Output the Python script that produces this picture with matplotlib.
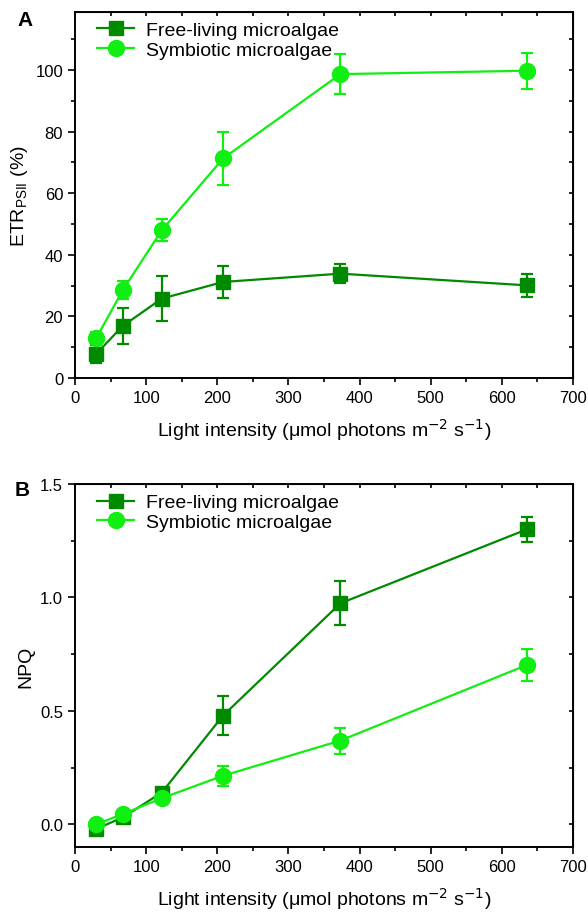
import numpy as np
import matplotlib
matplotlib.use("Agg")
import matplotlib.pyplot as plt
from matplotlib.ticker import MultipleLocator

plt.rcParams['font.family'] = ['Liberation Sans', 'DejaVu Sans']

light = [30, 67, 122, 208, 373, 635]

# panel A: ETR PSII (%)
etr_free = [7.9, 16.9, 25.8, 31.2, 33.9, 30.1]
etr_free_err = [2.9, 5.9, 7.2, 5.3, 3.1, 3.7]
etr_sym = [13.0, 28.5, 48.0, 71.3, 98.7, 99.8]
etr_sym_err = [2.1, 2.9, 3.6, 8.5, 6.6, 5.8]

# panel B: NPQ
npq_free = [-0.02, 0.03, 0.14, 0.479, 0.974, 1.30]
npq_free_err = [0.02, 0.015, 0.02, 0.085, 0.097, 0.055]
npq_sym = [0.0, 0.045, 0.115, 0.214, 0.369, 0.702]
npq_sym_err = [0.015, 0.015, 0.02, 0.045, 0.057, 0.07]

dark = '#008a00'
lime = '#11ee11'

fig = plt.figure(figsize=(5.88, 9.2), dpi=100)
axA = fig.add_axes([0.1276, 0.588, 0.8469, 0.3983])
axB = fig.add_axes([0.1276, 0.0783, 0.8469, 0.3945])


def draw(ax, yf, ef, ys, es):
    f = ax.errorbar(light, yf, yerr=ef, color=dark, marker='s', markersize=10, lw=1.6,
                    capsize=4.5, capthick=1.6, elinewidth=1.6)
    s = ax.errorbar(light, ys, yerr=es, color=lime, marker='o', markersize=11.5, lw=1.6,
                    capsize=4.5, capthick=1.6, elinewidth=1.6)
    ax.set_xlim(0, 700)
    ax.xaxis.set_major_locator(MultipleLocator(100))
    ax.xaxis.set_minor_locator(MultipleLocator(50))
    ax.tick_params(which='both', direction='out', width=1.2, labelsize=12)
    ax.tick_params(which='major', length=5)
    ax.tick_params(which='minor', length=3)
    for sp in ax.spines.values():
        sp.set_linewidth(1.4)
    # mirrored inward ticks on top and right
    top = ax.secondary_xaxis('top')
    top.xaxis.set_major_locator(MultipleLocator(50))
    top.tick_params(direction='in', length=3, width=1.2, labeltop=False)
    right = ax.secondary_yaxis('right')
    right.tick_params(direction='in', length=3, width=1.2, labelright=False)
    ax.set_xlabel('Light intensity (μmol photons m$^{-2}$ s$^{-1}$)', fontsize=14, labelpad=8)
    leg = ax.legend([f[0], s[0]], ['Free-living microalgae', 'Symbiotic microalgae'],
                    loc='upper left', frameon=False, fontsize=14, handlelength=1.9,
                    bbox_to_anchor=(0.025, 1.0), borderaxespad=0.2, borderpad=0.3,
                    handletextpad=0.6, labelspacing=0.12)
    return right


rA = draw(axA, etr_free, etr_free_err, etr_sym, etr_sym_err)
axA.set_ylim(0, 119)
axA.yaxis.set_major_locator(MultipleLocator(20))
axA.yaxis.set_minor_locator(MultipleLocator(10))
rA.yaxis.set_major_locator(MultipleLocator(10))
axA.set_ylabel('ETR$_{\\mathregular{PSII}}$ (%)', fontsize=14)

rB = draw(axB, npq_free, npq_free_err, npq_sym, npq_sym_err)
axB.set_ylim(-0.1, 1.5)
axB.yaxis.set_major_locator(MultipleLocator(0.5))
axB.yaxis.set_minor_locator(MultipleLocator(0.25))
axB.yaxis.set_major_formatter(matplotlib.ticker.FormatStrFormatter('%.1f'))
rB.yaxis.set_major_locator(MultipleLocator(0.25))
axB.set_ylabel('NPQ', fontsize=14)

fig.text(0.029, 0.978, 'A', fontsize=15, fontweight='bold', va='center')
fig.text(0.025, 0.467, 'B', fontsize=15, fontweight='bold', va='center')

fig.savefig('out.png', dpi=100)
